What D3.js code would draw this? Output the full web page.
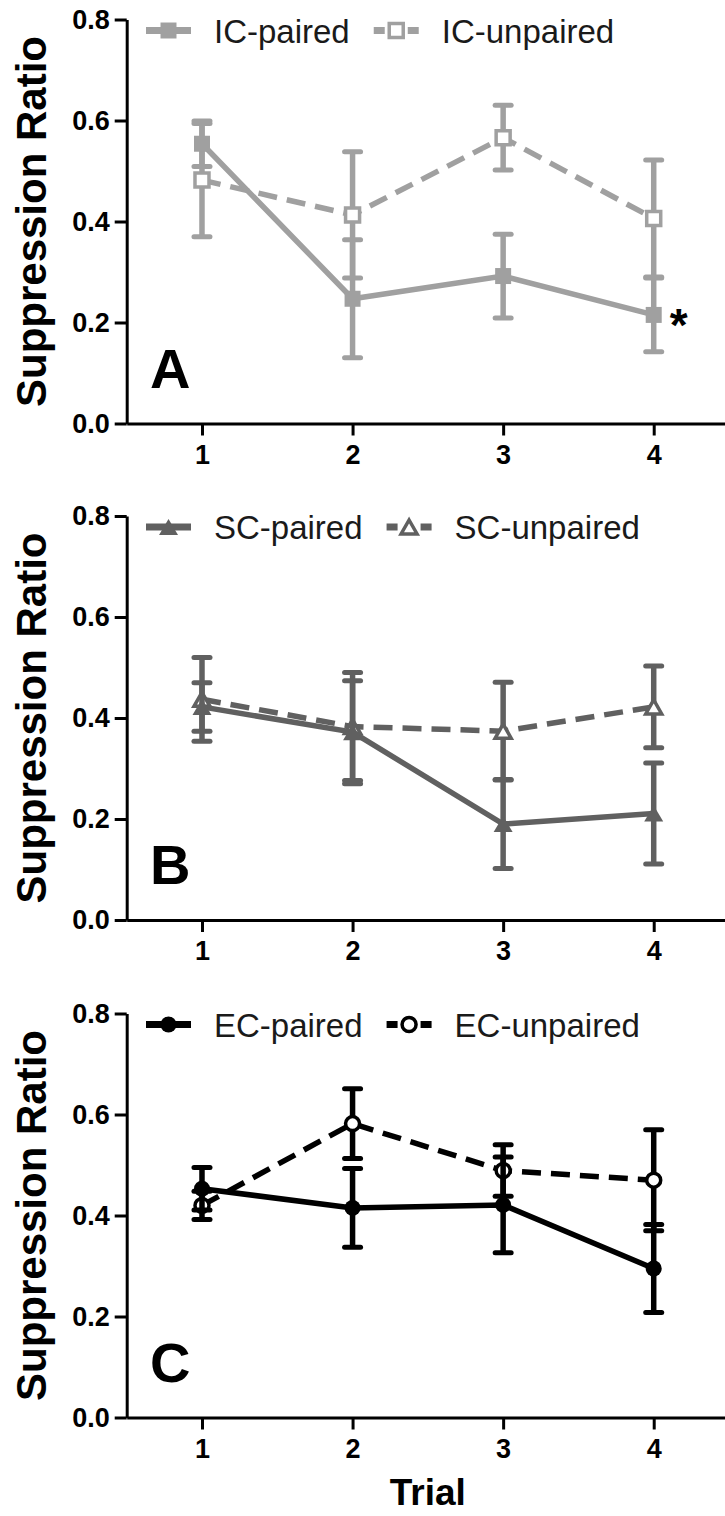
<!DOCTYPE html>
<html>
<head>
<meta charset="utf-8">
<script src="https://cdn.jsdelivr.net/npm/d3@7"></script>
<style>
  body { margin: 0; background: #fff; }
  text { font-family: "Liberation Sans", Arial, sans-serif; }
</style>
</head>
<body>
<div id="chart"></div>
<script>
const W = 725;
const H = 1516;

// data (mean and SEM per trial)
const trials = [1, 2, 3, 4];
const yTicks = [0, 0.2, 0.4, 0.6, 0.8];

const icPaired = [0.554, 0.247, 0.292, 0.215];
const icPairedErr = [0.045, 0.117, 0.083, 0.073];
const icUnpaired = [0.482, 0.413, 0.566, 0.406];
const icUnpairedErr = [0.112, 0.125, 0.064, 0.116];

const scPaired = [0.422, 0.372, 0.190, 0.211];
const scPairedErr = [0.048, 0.102, 0.088, 0.100];
const scUnpaired = [0.437, 0.383, 0.374, 0.422];
const scUnpairedErr = [0.083, 0.107, 0.097, 0.081];

const ecPaired = [0.453, 0.415, 0.421, 0.295];
const ecPairedErr = [0.042, 0.078, 0.095, 0.087];
const ecUnpaired = [0.420, 0.582, 0.489, 0.470];
const ecUnpairedErr = [0.028, 0.069, 0.051, 0.100];

const panels = [
    {letter: "A", color: "#a0a0a0", shape: "square", names: ["IC-paired", "IC-unpaired"],
     paired: icPaired, pairedErr: icPairedErr, unpaired: icUnpaired, unpairedErr: icUnpairedErr, star: 3},
    {letter: "B", color: "#606060", shape: "triangle", names: ["SC-paired", "SC-unpaired"],
     paired: scPaired, pairedErr: scPairedErr, unpaired: scUnpaired, unpairedErr: scUnpairedErr, star: -1},
    {letter: "C", color: "#000000", shape: "circle", names: ["EC-paired", "EC-unpaired"],
     paired: ecPaired, pairedErr: ecPairedErr, unpaired: ecUnpaired, unpairedErr: ecUnpairedErr, star: -1}
];

const plotH = 404;
const panelTop = [19.5, 516, 1013.5];
const lineW = 5.5;

const svg = d3.select("#chart").append("svg")
    .attr("width", W).attr("height", H)
    .style("background", "#fff");

const x = d3.scaleLinear().domain([0.5, 4.5]).range([126.7, 729]);

//marker shapes
function markerPath(shape, open) {
    if (shape == "square") {
        const s = open ? 14 : 16;
        return `M${-s/2},${-s/2}h${s}v${s}h${-s}Z`;
    }
    if (shape == "triangle") {
        const w = open ? 16 : 19, h = open ? 14 : 16;
        return `M0,${-h/2}L${w/2},${h/2}L${-w/2},${h/2}Z`;
    }
    const r = open ? 7 : 8;
    return d3.symbol(d3.symbolCircle, Math.PI * r * r)();
}

function drawMarker(g, cx, cy, p, open) {
    g.append("path")
        .attr("d", markerPath(p.shape, open))
        .attr("transform", `translate(${cx},${cy})`)
        .attr("fill", open ? "#fff" : p.color)
        .attr("stroke", p.color)
        .attr("stroke-width", open ? 3.5 : 0);
}

function drawSeries(g, y, vals, errs, p, open) {
    const s = g.append("g");
    // error bars
    vals.forEach((v, i) => {
        const cx = x(trials[i]);
        s.append("line")
            .attr("x1", cx).attr("x2", cx)
            .attr("y1", y(v - errs[i])).attr("y2", y(v + errs[i]))
            .attr("stroke", p.color).attr("stroke-width", lineW);
        [v - errs[i], v + errs[i]].forEach(e => {
            s.append("line")
                .attr("x1", cx - 8).attr("x2", cx + 8)
                .attr("y1", y(e)).attr("y2", y(e))
                .attr("stroke", p.color).attr("stroke-width", 5)
                .attr("stroke-linecap", "round");
        });
    });
    // connecting line
    const line = d3.line().x((d, i) => x(trials[i])).y(d => y(d));
    s.append("path")
        .attr("d", line(vals))
        .attr("fill", "none")
        .attr("stroke", p.color)
        .attr("stroke-width", lineW)
        .attr("stroke-dasharray", open ? "19,10" : null);
    vals.forEach((v, i) => drawMarker(s, x(trials[i]), y(v), p, open));
}

panels.forEach((p, k) => {
    const top = panelTop[k];
    const y = d3.scaleLinear().domain([0, 0.8]).range([top + plotH, top]);
    const g = svg.append("g");

    //axes
    const xAxis = g.append("g")
        .attr("transform", `translate(0,${top + plotH})`)
        .call(d3.axisBottom(x).tickValues(trials).tickFormat(d3.format("d"))
            .tickSize(12).tickSizeOuter(0).tickPadding(9));
    const yAxis = g.append("g")
        .attr("transform", `translate(${x.range()[0]},0)`)
        .call(d3.axisLeft(y).tickValues(yTicks).tickFormat(d3.format(".1f"))
            .tickSize(12).tickSizeOuter(0).tickPadding(5));
    [xAxis, yAxis].forEach(a => {
        a.selectAll("path, line").attr("stroke", "#000").attr("stroke-width", 3);
        a.selectAll("text").attr("fill", "#000")
            .style("font-size", "27px").style("font-weight", "bold");
    });

    // y title
    g.append("text")
        .attr("transform", `translate(46,${top + plotH / 2}) rotate(-90)`)
        .attr("text-anchor", "middle")
        .style("font-size", "42px").style("font-weight", "bold")
        .text("Suppression Ratio");

    // panel letter
    g.append("text")
        .attr("x", 150).attr("y", top + plotH - 36)
        .style("font-size", "56px").style("font-weight", "bold")
        .text(p.letter);

    drawSeries(g, y, p.unpaired, p.unpairedErr, p, true);
    drawSeries(g, y, p.paired, p.pairedErr, p, false);

    if (p.star >= 0) {
        g.append("text")
            .attr("x", x(trials[p.star]) + 16)
            .attr("y", y(p.paired[p.star]) + 26)
            .style("font-size", "46px").style("font-weight", "bold")
            .text("*");
    }

    //legend
    const ly = top + 11;
    let lx = 146;
    p.names.forEach((name, j) => {
        const open = j == 1;
        g.append("line")
            .attr("x1", lx).attr("x2", lx + 45)
            .attr("y1", ly).attr("y2", ly)
            .attr("stroke", p.color).attr("stroke-width", 7)
            .attr("stroke-dasharray", open ? "11,23" : null);
        drawMarker(g, lx + 22.5, ly, p, open);
        const t = g.append("text")
            .attr("x", lx + 68).attr("y", ly + 12)
            .attr("fill", "#1a1a1a")
            .style("font-size", "33px")
            .text(name);
        lx = lx + 68 + t.node().getComputedTextLength() + 24;
    });
});

// shared x title
svg.append("text")
    .attr("x", (x(1) + x(4)) / 2).attr("y", 1505)
    .attr("text-anchor", "middle")
    .style("font-size", "37px").style("font-weight", "bold")
    .text("Trial");
</script>
</body>
</html>
